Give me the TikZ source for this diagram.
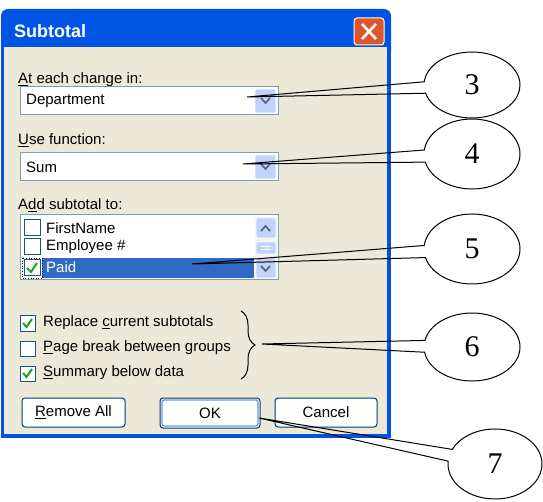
\documentclass[tikz,border=0pt]{standalone}
\usepackage{fontspec}
\setmainfont{Liberation Sans}
\newfontfamily\numfont{Liberation Serif}
\usetikzlibrary{shapes.callouts,decorations.pathreplacing}
\definecolor{xpblue}{RGB}{0,84,227}
\definecolor{xpbeige}{RGB}{236,233,216}
\definecolor{comboline}{RGB}{127,157,185}
\definecolor{dropblue}{RGB}{193,211,251}
\definecolor{chevron}{RGB}{77,97,133}
\definecolor{xphigh}{RGB}{49,106,197}
\definecolor{boxline}{RGB}{28,81,128}
\definecolor{checkgreen}{RGB}{33,161,33}
\definecolor{btnline}{RGB}{0,60,116}
\definecolor{closered}{RGB}{224,84,42}
\definecolor{scrolltrack}{RGB}{244,243,238}
\tikzset{
  dlgtext/.style={anchor=west, inner sep=0pt, font=\fontsize{15}{15}\selectfont},
  combo/.style={draw=comboline, fill=white, line width=1pt},
  dropbtn/.style={fill=dropblue, draw=white, line width=0.6pt, rounded corners=1.5pt},
  chev/.style={draw=chevron, line width=1.6pt},
  tickbox/.style={draw=boxline, fill=white, line width=1pt},
  tick/.style={draw=checkgreen, line width=2pt},
  xpbutton/.style={draw=btnline, fill=white!96!xpbeige, line width=1pt, rounded corners=3pt},
  callnum/.style={ellipse callout, draw, line width=1pt, minimum width=96pt, minimum height=70pt,
    callout pointer arc=20, inner sep=0pt, font=\numfont\fontsize{30}{30}\selectfont}
}

\begin{document}
\begin{tikzpicture}[x=1pt,y=-1pt]
			%%%%% START %%%%%
			\useasboundingbox (0,0) rectangle (543,502);
			
			% window frame and title bar
			\fill[xpblue, rounded corners=7pt] (1,9) rectangle (391,60);
			\fill[xpblue] (1,30) rectangle (391,438);
			\fill[xpbeige] (4,47) rectangle (387,434);
			\node[anchor=west, inner sep=0pt, text=white, font=\bfseries\fontsize{18}{18}\selectfont] (title) at (14,31) {Subtotal};
			\draw[white, line width=1pt, fill=closered, rounded corners=3pt] (354,18) rectangle (384,45);
			\draw[white, line width=2.6pt] (362,24) -- (376,39) (376,24) -- (362,39);
			
			% at each change in
			\node[dlgtext] (change) at (18,80) {\underline{A}t each change in:};
			\draw[combo] (20,87) rectangle (278,115);
			\node[dlgtext] (dept) at (26,101) {Department};
			\draw[dropbtn] (255,89) rectangle (276,113);
			\draw[chev] (261,98) -- (265.5,103) -- (270,98);
			
			% use function
			\node[dlgtext] (func) at (18,140) {\underline{U}se function:};
			\draw[combo] (20,153) rectangle (278,181);
			\node[dlgtext] (sum) at (26,167) {Sum};
			\draw[dropbtn] (255,155) rectangle (276,179);
			\draw[chev] (261,164) -- (265.5,169) -- (270,164);
			
			% add subtotal to
			\node[dlgtext] (addto) at (18,205) {A\underline{d}d subtotal to:};
			\draw[combo] (20,215) rectangle (278,280);
			\fill[xphigh] (42,258) rectangle (254,278);
			\draw[tickbox] (24,220) rectangle (40,236);
			\draw[tickbox] (24,239) rectangle (40,255);
			\draw[tickbox] (24,260) rectangle (40,276);
			\draw[black, dotted, line width=0.6pt] (22,258) rectangle (42,278);
			\draw[tick] (27,268) -- (31,272) -- (37,263);
			\node[dlgtext] (first) at (46,228) {FirstName};
			\node[dlgtext] (empl) at (46,247) {Employee \#};
			\node[dlgtext, text=white] (paid) at (46,267) {Paid};
			\fill[scrolltrack] (255,217) rectangle (277,279);
			\draw[dropbtn] (256,218) rectangle (276,238);
			\draw[dropbtn] (256,242) rectangle (276,254);
			\draw[white, line width=0.6pt] (261,246) -- (271,246) (261,249) -- (271,249);
			\draw[dropbtn] (256,258) rectangle (276,278);
			\draw[chev] (261,231) -- (265.5,226) -- (270,231);
			\draw[chev] (261,266) -- (265.5,271) -- (270,266);
			
			% options
			\draw[tickbox] (20,316) rectangle (35,331);
			\draw[tick] (23,323) -- (26.5,327) -- (32,319);
			\node[dlgtext] (replace) at (43,323) {Replace \underline{c}urrent subtotals};
			\draw[tickbox] (20,341) rectangle (35,356);
			\node[dlgtext] (pagebr) at (43,348) {\underline{P}age break between groups};
			\draw[tickbox] (20,366) rectangle (35,381);
			\draw[tick] (23,373) -- (26.5,377) -- (32,369);
			\node[dlgtext] (summary) at (43,373) {\underline{S}ummary below data};
			\draw[line width=1pt, decorate, decoration={brace, amplitude=14pt}] (241,311) -- (241,379);
			
			% buttons
			\draw[xpbutton] (22,398) rectangle (125,427);
			\node[font=\fontsize{15}{15}\selectfont, inner sep=0pt] (remove) at (73.5,412.5) {\underline{R}emove All};
			\draw[xpbutton] (160,398) rectangle (260,428);
			\draw[draw=xphigh!70, line width=1.2pt, rounded corners=2pt] (162,400) rectangle (258,426);
			\node[font=\fontsize{15}{15}\selectfont, inner sep=0pt] (ok) at (210,413) {OK};
			\draw[xpbutton] (275,398) rectangle (377,427);
			\node[font=\fontsize{15}{15}\selectfont, inner sep=0pt] (cancel) at (326,412.5) {Cancel};
			
			% callouts
			\coordinate (p3) at (247,97);
			\coordinate (p4) at (243,164);
			\coordinate (p5) at (192,264);
			\coordinate (p6) at (262,344);
			\coordinate (p7) at (259,418);
			\node[callnum, minimum height=66pt, callout absolute pointer={(p3)}] (n3) at (472,85) {3};
			\node[callnum, callout absolute pointer={(p4)}] (n4) at (472,154) {4};
			\node[callnum, callout absolute pointer={(p5)}] (n5) at (472,249) {5};
			\node[callnum, minimum height=68pt, callout absolute pointer={(p6)}] (n6) at (472,347) {6};
			\node[callnum, minimum width=94pt, callout absolute pointer={(p7)}] (n7) at (495,464) {7};
			
			%%%%% END %%%%%
\end{tikzpicture}
\end{document}
